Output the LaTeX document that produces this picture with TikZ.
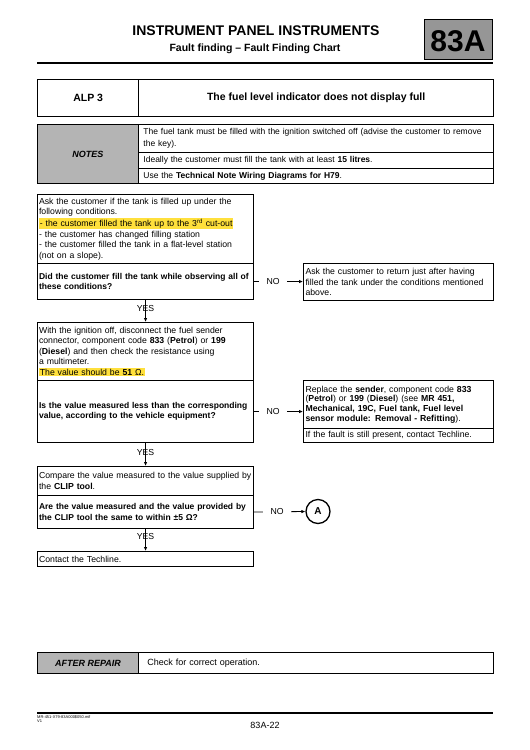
\documentclass[tikz,border=0pt]{standalone}
\usepackage{fontspec}
\setmainfont{Liberation Sans}
\usetikzlibrary{arrows.meta}
\definecolor{hlyellow}{RGB}{255,224,60}
\definecolor{cellgray}{RGB}{180,180,180}
\definecolor{badgegray}{RGB}{150,150,150}
\newcommand{\hlt}[1]{{\setlength{\fboxsep}{0.8pt}\colorbox{hlyellow}{#1}}}
\tikzset{
  nobreak/.style={execute at begin node={\hyphenpenalty=10000\exhyphenpenalty=10000\rightskip=0pt plus 1fil minus 30pt}},
  flowbox/.style={draw, line width=1.1pt, rectangle, anchor=north west, inner xsep=1.5pt, inner ysep=0pt,
    align=left, text width=213pt, font=\fontsize{8.7}{10.4}\selectfont, nobreak},
  boldbox/.style={flowbox, font=\fontsize{8.5}{10.4}\selectfont\bfseries},
  sidebox/.style={flowbox, text width=186pt, inner xsep=2pt},
  tabcell/.style={draw, line width=0.9pt, rectangle, anchor=north west, inner xsep=5pt, inner ysep=0pt,
    align=left, text width=345pt, font=\fontsize{8.5}{11.5}\selectfont, nobreak},
  graycell/.style={draw, line width=0.9pt, fill=cellgray, rectangle, anchor=north west, inner sep=0pt,
    minimum width=101pt, font=\fontsize{9}{10}\selectfont\bfseries\itshape},
  conn/.style={line width=0.8pt, -{Latex[length=4pt,width=3.5pt]}},
  yeslbl/.style={font=\fontsize{8.7}{10}\selectfont, inner sep=0.5pt, pos=0.4},
  nolbl/.style={font=\fontsize{8.7}{10}\selectfont, fill=white, inner xsep=7.5pt, inner ysep=1pt},
}
\begin{document}
\begin{tikzpicture}[x=1pt,y=-1pt]
\useasboundingbox (0,0) rectangle (530,750);
% header
\node[font=\fontsize{14}{16}\selectfont\bfseries, anchor=base] (title) at (256,35.5) {INSTRUMENT PANEL INSTRUMENTS};
\node[font=\fontsize{10.5}{12}\selectfont\bfseries, anchor=base] (subtitle) at (255,51) {Fault finding – Fault Finding Chart};
\node[draw, line width=0.8pt, fill=badgegray, minimum width=68pt, minimum height=40pt, anchor=north west, inner sep=0pt] (badge) at (424,19) {};
\node[font=\fontsize{30}{32}\selectfont\bfseries, anchor=base] (badgetext) at (458,51.5) {83A};
\draw[line width=2pt] (37,62.5) coordinate (hrA) -- (493,62.5) coordinate (hrB);
% ALP
\node[draw, line width=1.3pt, anchor=north west, minimum width=101pt, minimum height=37.5pt, inner sep=0pt,
  font=\fontsize{10.5}{12}\selectfont\bfseries] (alp) at (37,78.5) {ALP 3};
\node[draw, line width=1.3pt, anchor=north west, minimum width=355pt, minimum height=37.5pt, inner sep=0pt,
  font=\fontsize{10.5}{12}\selectfont\bfseries] (alptitle) at (138,78.5) {The fuel level indicator does not display full};
% notes
\node[graycell, minimum height=59pt] (notes) at (37,124) {NOTES};
\node[tabcell, minimum height=28pt] (note1) at (138,124) {The fuel tank must be filled with the ignition switched off (advise the customer to remove\\the key).};
\node[tabcell, minimum height=16pt] (note2) at (138,152) {Ideally the customer must fill the tank with at least \textbf{15 litres}.};
\node[tabcell, minimum height=15pt] (note3) at (138,168) {Use the \textbf{Technical Note Wiring Diagrams for H79}.};
% flow
\node[flowbox, minimum height=69pt] (b1a) at (37,194) {Ask the customer if the tank is filled up under the\\following conditions.\\\hlt{- the customer filled the tank up to the 3\textsuperscript{rd} cut-out}\\- the customer has changed filling station\\- the customer filled the tank in a flat-level station\\(not on a slope).};
\node[boldbox, minimum height=36pt] (b1b) at (37,263) {Did the customer fill the tank while observing all of\\these conditions?};
\node[sidebox, minimum height=37pt] (r1) at (303,263) {Ask the customer to return just after having\\filled the tank under the conditions mentioned\\above.};
\node[flowbox, minimum height=58pt] (b2a) at (37,322) {With the ignition off, disconnect the fuel sender\\connector, component code \textbf{833} (\textbf{Petrol}) or \textbf{199}\\(\textbf{Diesel}) and then check the resistance using\\a multimeter.\\\hlt{The value should be \textbf{51} Ω.}};
\node[boldbox, minimum height=62pt] (b2b) at (37,380) {Is the value measured less than the corresponding\\value, according to the vehicle equipment?};
\node[sidebox, minimum height=48pt, font=\fontsize{8.7}{9.6}\selectfont] (r2a) at (303,380) {Replace the \textbf{sender}, component code \textbf{833}\\(\textbf{Petrol}) or \textbf{199} (\textbf{Diesel}) (see \textbf{MR 451,}\\\textbf{Mechanical, 19C, Fuel tank, Fuel level}\\\textbf{sensor module: Removal - Refitting}).};
\node[sidebox, minimum height=14pt] (r2b) at (303,428) {If the fault is still present, contact Techline.};
\node[flowbox, minimum height=29pt] (b3a) at (37,466) {Compare the value measured to the value supplied by\\the \textbf{CLIP tool}.};
\node[boldbox, minimum height=33pt] (b3b) at (37,495) {Are the value measured and the value provided by\\the CLIP tool the same to within ±5 Ω?};
\node[flowbox, minimum height=15pt] (b4) at (37,551) {Contact the Techline.};
\node[draw, circle, line width=1.3pt, minimum size=24pt, inner sep=0pt, font=\fontsize{10}{12}\selectfont\bfseries] (circA) at (318,511.5) {A};
% connectors
\draw[conn] (b1b.south) -- node[yeslbl]{YES} (b2a.north);
\draw[conn] (b2b.south) -- node[yeslbl]{YES} (b3a.north);
\draw[conn] (b3b.south) -- node[yeslbl, pos=0.35]{YES} (b4.north);
\draw[conn] (b1b.east) -- node[nolbl, pos=0.39]{NO} (b1b.east -| r1.west);
\draw[conn] (b2b.east) -- node[nolbl, pos=0.39]{NO} (b2b.east -| r2a.west);
\draw[conn] (b3b.east) -- node[nolbl, pos=0.45]{NO} (circA.west);
% after repair
\node[graycell, minimum height=21pt] (after) at (37,652) {AFTER REPAIR};
\node[tabcell, minimum height=21pt, inner xsep=9pt, text width=337pt, font=\fontsize{9}{10}\selectfont] (afterT) at (138,652) {Check for correct operation.};
% footer
\draw[line width=2pt] (37,712.5) coordinate (frA) -- (493,712.5) coordinate (frB);
\node[font=\fontsize{4}{4.8}\selectfont, anchor=north west, inner sep=0pt, align=left] (docref) at (37,715) {MR-451-X79-83A000\$050.mif\\V1};
\node[font=\fontsize{9}{10}\selectfont, anchor=base] (pageno) at (265,728) {83A-22};
\end{tikzpicture}
\end{document}
